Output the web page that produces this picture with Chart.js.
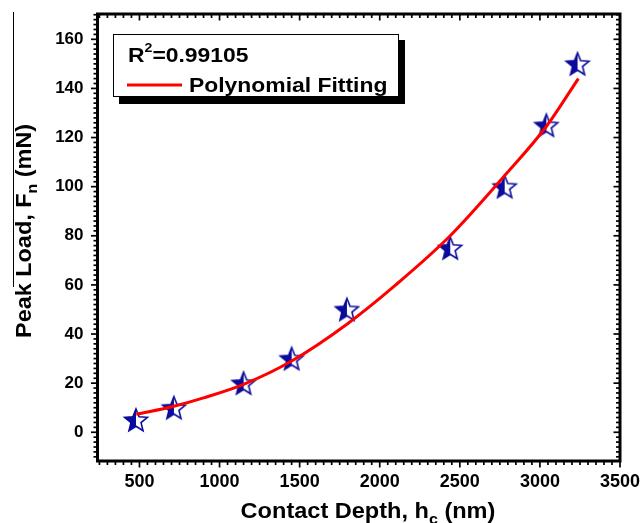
<!DOCTYPE html>
<html><head><meta charset="utf-8">
<script src="https://cdn.jsdelivr.net/npm/chart.js@4.4.0/dist/chart.umd.min.js"></script>
<style>html,body{margin:0;padding:0;background:#fff;overflow:hidden}#wrap{width:643px;height:523px}</style>
</head><body><div id="wrap"><canvas id="c" width="643" height="523"></canvas></div>
<script>
// ---- data ----
const depthNm = [478, 715, 1150, 1450, 1795, 2440, 2780, 3040, 3235];
const peakLoadMN = [5, 10, 20, 30, 50, 75, 100, 125, 150];
const fitDepthNm = [480, 715, 900, 1150, 1450, 1795, 2100, 2440, 2780, 3040, 3240];
const fitLoadMN = [7.3, 10.6, 14, 19.5, 29, 44, 60, 80, 104.5, 124.5, 144];
const xTickValues = [500, 1000, 1500, 2000, 2500, 3000, 3500];
const yTickValues = [0, 20, 40, 60, 80, 100, 120, 140, 160];
const r2Text = "0.99105";
const fitLabel = "Polynomial Fitting";

const FONT = '"Liberation Sans", Arial, sans-serif';
const NAVY = '#0b0b9c';

function makeStar(){
  const s = 30, c = document.createElement('canvas');
  c.width = s; c.height = s;
  const g = c.getContext('2d');
  const cx = s/2, cy = s/2 + 1, R = 12, r = R*0.44;
  const p = new Path2D();
  for (let i = 0; i < 10; i++) {
    const a = -Math.PI/2 + i*Math.PI/5, rr = i % 2 ? r : R;
    const x = cx + rr*Math.cos(a), y = cy + rr*Math.sin(a);
    if (i) p.lineTo(x, y); else p.moveTo(x, y);
  }
  p.closePath();
  g.save(); g.beginPath(); g.rect(0, 0, cx, s); g.clip();
  g.fillStyle = NAVY; g.fill(p); g.restore();
  g.strokeStyle = NAVY; g.lineWidth = 1.6; g.lineJoin = 'miter'; g.stroke(p);
  return c;
}
const starImg = makeStar();

function line(ctx, x1, y1, x2, y2){ ctx.beginPath(); ctx.moveTo(x1, y1); ctx.lineTo(x2, y2); ctx.stroke(); }
// draw text with horizontal stretch sx, returns advance width
function sText(ctx, t, x, y, sx){
  ctx.save(); ctx.translate(x, y); ctx.scale(sx, 1); ctx.fillText(t, 0, 0); ctx.restore();
  return ctx.measureText(t).width * sx;
}

const deco = {
  id: 'deco',
  afterDraw(chart){
    const ctx = chart.ctx, a = chart.chartArea, xs = chart.scales.x, ys = chart.scales.y;
    ctx.save();
    ctx.strokeStyle = '#000';
    ctx.lineWidth = 1.7;
    for (let v = 250; v <= 3500; v += 50) {
      const p = xs.getPixelForValue(v);
      if (p < a.left + 1) continue;
      const L = (v % 500 === 0) ? 6.5 : 4;
      line(ctx, p, a.bottom, p, a.bottom + L);
      line(ctx, p, a.top, p, a.top + L);
    }
    for (let v = -10; v <= 170; v += 2) {
      const p = ys.getPixelForValue(v);
      const L = (v % 20 === 0) ? 6.5 : 4;
      line(ctx, a.left - L, p, a.left, p);
      line(ctx, a.right, p, a.right - L, p);
    }
    ctx.lineWidth = 3;
    ctx.strokeRect(a.left, a.top, a.right - a.left, a.bottom - a.top);

    // axis titles
    ctx.fillStyle = '#000';
    ctx.textBaseline = 'alphabetic';
    const big = 'bold 22px ' + FONT, sub = 'bold 15px ' + FONT;
    // x title
    const SX = 1.07;
    const xa = 'Contact Depth, h', xb = 'c', xc = ' (nm)';
    ctx.font = big; const wa = ctx.measureText(xa).width*SX, wc = ctx.measureText(xc).width*SX;
    ctx.font = sub; const wb = ctx.measureText(xb).width*SX;
    let x0 = 368 - (wa + wb + wc)/2;
    ctx.font = big; sText(ctx, xa, x0, 518, SX);
    ctx.font = sub; sText(ctx, xb, x0 + wa, 524, SX);
    ctx.font = big; sText(ctx, xc, x0 + wa + wb, 518, SX);
    // y title
    ctx.save();
    ctx.translate(31, 338); ctx.rotate(-Math.PI/2);
    const SY = 1.065;
    const ya = 'Peak Load, F', yb = 'n', yc = ' (mN)';
    ctx.font = big; const va = ctx.measureText(ya).width*SY;
    ctx.font = sub; const vb = ctx.measureText(yb).width*SY;
    ctx.font = big; sText(ctx, ya, 0, 0, SY);
    ctx.font = sub; sText(ctx, yb, va, 6, SY);
    ctx.font = big; sText(ctx, yc, va + vb, 0, SY);
    ctx.restore();
    // stray line near y title
    ctx.lineWidth = 1; line(ctx, 13.5, 12, 13.5, 287);

    // legend box
    ctx.fillStyle = '#000'; ctx.fillRect(119, 40, 286, 64);
    ctx.fillStyle = '#fff'; ctx.fillRect(113, 34, 286, 63);
    ctx.lineWidth = 1; ctx.strokeStyle = '#000'; ctx.strokeRect(113.5, 34.5, 285, 62);
    ctx.fillStyle = '#000';
    const LS = 1.09;
    ctx.font = 'bold 21px ' + FONT; const wr = sText(ctx, 'R', 128, 62, LS);
    ctx.font = 'bold 13px ' + FONT; const w2 = sText(ctx, '2', 128 + wr, 52, LS);
    ctx.font = 'bold 21px ' + FONT; sText(ctx, '=' + r2Text, 128 + wr + w2, 62, LS);
    ctx.strokeStyle = '#ff0000'; ctx.lineWidth = 3; line(ctx, 127, 85, 182, 85);
    sText(ctx, fitLabel, 189, 92, LS);
    ctx.restore();
  }
};

function noPad(s){ s.paddingTop = 0; s.paddingBottom = 0; s.paddingLeft = 0; s.paddingRight = 0; }

new Chart(document.getElementById('c'), {
  type: 'scatter',
  data: {
    datasets: [
      {
        type: 'line', label: fitLabel,
        data: fitDepthNm.map((x, i) => ({x, y: fitLoadMN[i]})),
        borderColor: '#ff0000', borderWidth: 3, pointRadius: 0,
        cubicInterpolationMode: 'monotone', fill: false
      },
      {
        label: 'data',
        data: depthNm.map((x, i) => ({x, y: peakLoadMN[i]})),
        pointStyle: starImg, pointRadius: 12
      }
    ]
  },
  options: {
    responsive: false, animation: false, devicePixelRatio: 1,
    layout: {padding: {left: 0, right: 23, top: 14, bottom: 0}},
    plugins: {legend: {display: false}, tooltip: {enabled: false}},
    scales: {
      x: {
        type: 'linear', min: 238, max: 3500,
        grid: {display: false, drawTicks: false}, border: {display: false},
        afterBuildTicks: s => { s.ticks = xTickValues.map(v => ({value: v})); },
        afterFit: s => { s.height = 62; noPad(s); },
        ticks: {autoSkip: false, maxRotation: 0, padding: 10, color: '#000',
          font: {family: FONT, weight: 'bold', size: 18}, callback: v => String(v)}
      },
      y: {
        type: 'linear', min: -11.7, max: 170.3,
        grid: {display: false, drawTicks: false}, border: {display: false},
        afterBuildTicks: s => { s.ticks = yTickValues.map(v => ({value: v})); },
        afterFit: s => { s.width = 97.5; noPad(s); },
        ticks: {autoSkip: false, padding: 14, color: '#000',
          font: {family: FONT, weight: 'bold', size: 17}, callback: v => String(v)}
      }
    }
  },
  plugins: [deco]
});
</script></body></html>
